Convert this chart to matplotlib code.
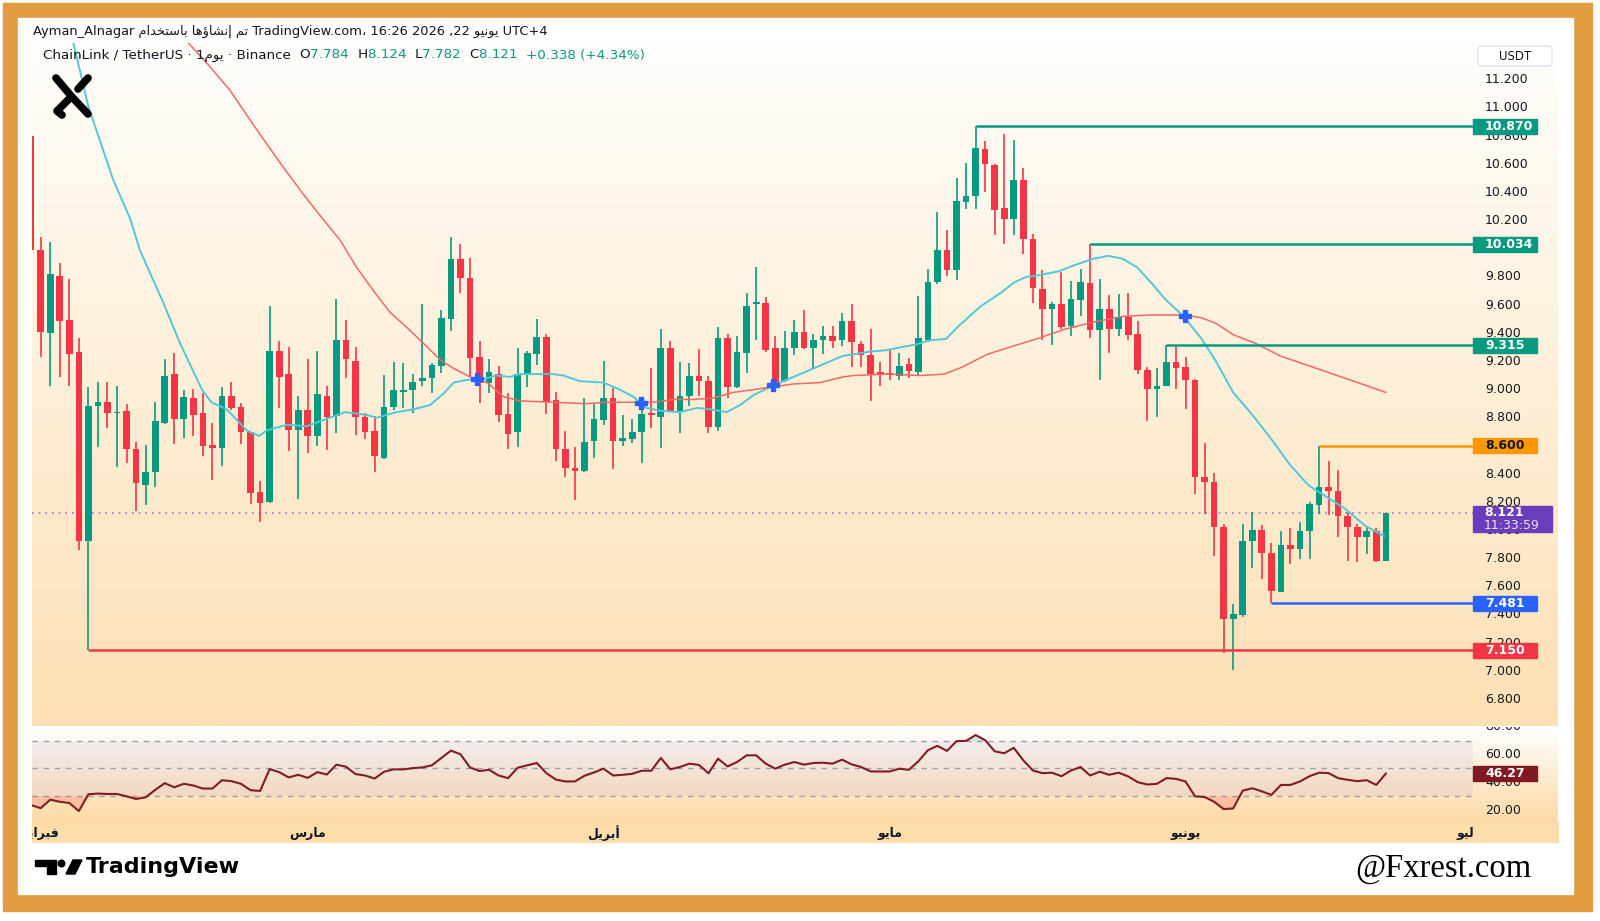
import numpy as np
import matplotlib.pyplot as plt
import matplotlib.colors as mcolors
from matplotlib.patches import Rectangle, FancyBboxPatch, Polygon, Circle

plt.rcParams['font.family'] = ['DejaVu Sans']

# ---------------- data ----------------
start_date = np.datetime64('2026-01-31')

opens = [10.80, 9.991, 9.404, 9.807, 9.494, 9.265, 7.927, 8.883, 8.914, 8.831,
         8.848, 8.578, 8.322, 8.412, 8.760, 9.108, 8.791, 8.938, 8.836, 8.607,
         8.588, 8.954, 8.879, 8.699, 8.275, 8.204, 9.274, 9.108, 8.713, 8.855,
         8.670, 8.957, 8.815, 9.352, 9.203, 8.808, 8.706, 8.512, 8.874, 8.985,
         8.997, 9.063, 9.080, 9.170, 9.501, 9.925, 9.790, 9.234, 9.049, 9.111,
         8.824, 8.696, 9.104, 9.253, 9.376, 8.926, 8.576, 8.441, 8.424, 8.635,
         8.784, 8.943, 8.635, 8.649, 8.701, 8.836, 8.803, 9.293, 8.850, 8.954,
         9.097, 9.063, 8.732, 9.369, 9.021, 9.262, 9.606, 9.613, 9.293, 9.061,
         9.293, 9.407, 9.293, 9.352, 9.383, 9.352, 9.487, 9.321, 9.246, 9.123,
         9.115, 9.099, 9.182, 9.127, 9.350, 9.761, 9.992, 9.849, 10.334, 10.377,
         10.712, 10.598, 10.293, 10.212, 10.486, 10.073, 9.712, 9.573, 9.611, 9.451,
         9.634, 9.756, 9.421, 9.573, 9.433, 9.515, 9.393, 9.142, 9.007, 9.028,
         9.198, 9.159, 9.066, 8.378, 8.343, 8.023, 7.371, 7.397, 7.924, 8.005,
         7.840, 7.562, 7.899, 7.871, 7.993, 8.183, 8.305, 8.279, 8.099, 8.023,
         7.955, 7.998, 7.784]
highs = [10.83, 10.081, 10.046, 9.901, 9.785, 9.364, 9.016, 9.052, 9.052, 9.025,
         8.895, 8.625, 8.607, 8.914, 9.215, 9.258, 8.997, 9.004, 8.973, 8.765,
         9.021, 9.052, 8.907, 8.701, 8.348, 9.594, 9.347, 9.305, 8.957, 9.215,
         9.274, 9.025, 9.641, 9.494, 9.305, 8.831, 8.812, 9.104, 9.198, 9.186,
         9.111, 9.606, 9.186, 9.565, 10.081, 10.034, 9.932, 9.347, 9.215, 9.170,
         8.973, 9.293, 9.274, 9.504, 9.395, 8.985, 8.706, 8.595, 8.938, 8.895,
         9.203, 9.014, 8.819, 8.789, 8.926, 9.156, 9.428, 9.347, 9.198, 9.186,
         9.288, 9.097, 9.442, 9.395, 9.381, 9.684, 9.873, 9.655, 9.383, 9.416,
         9.494, 9.565, 9.395, 9.454, 9.454, 9.546, 9.606, 9.347, 9.428, 9.198,
         9.286, 9.258, 9.227, 9.667, 9.857, 10.263, 10.136, 10.504, 10.610, 10.870,
         10.763, 10.605, 10.813, 10.775, 10.575, 10.106, 9.852, 9.624, 9.832, 9.768,
         9.857, 10.034, 9.789, 9.675, 9.680, 9.687, 9.484, 9.160, 9.155, 9.315,
         9.304, 9.228, 9.078, 8.622, 8.406, 8.048, 7.477, 8.043, 8.132, 8.038,
         7.909, 7.994, 8.019, 8.062, 8.201, 8.600, 8.492, 8.429, 8.132, 8.048,
         8.023, 8.018, 8.124]
lows = [9.95, 9.234, 9.028, 9.087, 9.028, 7.861, 7.150, 8.590, 8.730, 8.448,
        8.476, 8.140, 8.180, 8.311, 8.755, 8.614, 8.658, 8.670, 8.531, 8.358,
        8.460, 8.855, 8.611, 8.185, 8.062, 8.192, 8.872, 8.564, 8.221, 8.552,
        8.599, 8.571, 8.689, 9.080, 8.677, 8.647, 8.412, 8.507, 8.855, 8.867,
        8.836, 9.028, 8.973, 9.115, 9.418, 9.688, 9.092, 8.902, 8.973, 8.767,
        8.580, 8.590, 9.021, 9.175, 8.824, 8.493, 8.382, 8.216, 8.412, 8.512,
        8.749, 8.434, 8.599, 8.623, 8.481, 8.730, 8.583, 8.843, 8.689, 8.886,
        8.957, 8.689, 8.706, 8.943, 9.009, 9.115, 9.352, 9.265, 9.002, 9.056,
        9.246, 9.288, 9.151, 9.250, 9.293, 9.310, 9.163, 9.163, 8.919, 9.028,
        9.068, 9.068, 9.085, 9.096, 9.337, 9.750, 9.806, 9.776, 10.283, 10.283,
        10.402, 10.098, 10.035, 10.098, 9.966, 9.616, 9.350, 9.319, 9.433, 9.383,
        9.520, 9.370, 9.066, 9.261, 9.383, 9.350, 9.109, 8.774, 8.804, 9.028,
        9.002, 8.860, 8.259, 8.120, 7.815, 7.131, 7.009, 7.384, 7.731, 7.655,
        7.481, 7.560, 7.764, 7.795, 7.795, 8.120, 8.107, 7.955, 7.785, 7.777,
        7.835, 7.777, 7.782]
closes = [9.99, 9.411, 9.819, 9.490, 9.253, 7.927, 8.884, 8.914, 8.834, 8.838,
          8.576, 8.334, 8.415, 8.777, 9.097, 8.791, 8.945, 8.819, 8.602, 8.588,
          8.954, 8.872, 8.696, 8.263, 8.197, 9.274, 9.092, 8.713, 8.855, 8.670,
          8.969, 8.808, 9.352, 9.215, 8.803, 8.701, 8.528, 8.879, 8.997, 8.997,
          9.052, 9.080, 9.175, 9.506, 9.925, 9.790, 9.227, 9.045, 9.123, 8.819,
          8.685, 9.111, 9.258, 9.376, 8.909, 8.576, 8.441, 8.424, 8.625, 8.789,
          8.943, 8.635, 8.654, 8.696, 8.824, 8.819, 9.293, 8.850, 8.954, 9.097,
          9.061, 8.732, 9.369, 9.021, 9.265, 9.594, 9.624, 9.281, 9.033, 9.293,
          9.407, 9.293, 9.352, 9.383, 9.347, 9.487, 9.336, 9.246, 9.111, 9.111,
          9.108, 9.170, 9.134, 9.368, 9.761, 9.992, 9.849, 10.339, 10.372, 10.719,
          10.600, 10.276, 10.212, 10.486, 10.073, 9.725, 9.573, 9.608, 9.446, 9.641,
          9.761, 9.426, 9.573, 9.433, 9.515, 9.388, 9.139, 9.007, 9.028, 9.198,
          9.155, 9.066, 8.378, 8.343, 8.023, 7.371, 7.404, 7.924, 8.005, 7.840,
          7.567, 7.899, 7.871, 7.993, 8.188, 8.305, 8.277, 8.099, 8.023, 7.955,
          7.993, 7.784, 8.121]

# fast moving average (cyan), read at candle positions
cyan_idx = [3.0, 4.4, 6.0, 8.6, 10.4, 11.4, 13.9, 15.6, 17.9, 18.9, 20.5, 22.6, 23.9,
            24.7, 26.8, 28.9, 31.7, 32.9, 35.2, 36.2, 38.3, 40.1, 41.8, 43.2, 44.3, 45.7,
            47.1, 48.8, 50.2, 51.2, 53.0, 54.7, 55.8, 57.5, 60.0, 61.7, 63.1, 64.5, 65.9,
            68.0, 69.8, 71.2, 72.9, 74.3, 75.7, 77.8, 79.9, 82.0, 83.7, 85.1, 86.2, 87.9,
            89.7, 91.1, 92.7, 94.2, 95.9, 97.2, 99.5, 101.7, 103.0, 104.3, 105.4, 107.7,
            109.6, 111.4, 112.9, 114.4, 115.9, 117.4, 118.9, 120.8, 122.7, 124.2, 126.0,
            127.9, 130.2, 131.9, 133.9, 136.2, 137.6, 139.9, 141.8]
cyan_val = [11.85, 11.47, 11.01, 10.49, 10.21, 9.99, 9.61, 9.33, 9.00, 8.91, 8.86, 8.71, 8.67,
            8.71, 8.75, 8.74, 8.81, 8.84, 8.82, 8.80, 8.84, 8.86, 8.89, 8.97, 9.05, 9.07,
            9.07, 9.10, 9.09, 9.11, 9.11, 9.11, 9.10, 9.06, 9.05, 9.00, 8.95, 8.87, 8.85,
            8.84, 8.87, 8.86, 8.84, 8.89, 8.96, 9.03, 9.09, 9.15, 9.20, 9.24, 9.25, 9.27,
            9.28, 9.30, 9.32, 9.35, 9.36, 9.45, 9.59, 9.69, 9.76, 9.80, 9.81, 9.84,
            9.89, 9.93, 9.95, 9.93, 9.87, 9.76, 9.64, 9.52, 9.36, 9.20, 8.98,
            8.83, 8.63, 8.47, 8.32, 8.22, 8.16, 8.03, 7.96]

# slow moving average (red)
red_idx = [15.0, 16.5, 18.4, 20.8, 23.3, 26.1, 28.5, 30.6, 32.4, 34.1, 35.9, 37.6, 39.4,
           41.1, 42.9, 44.3, 46.0, 47.8, 49.5, 51.2, 54.7, 58.2, 60.3, 63.1, 65.2, 67.3,
           69.4, 71.5, 73.6, 75.7, 77.8, 79.9, 82.7, 85.1, 86.2, 89.7, 93.2, 95.7, 97.6,
           100.2, 102.5, 105.4, 108.4, 111.4, 114.4, 117.4, 120.8, 122.7, 124.2, 126.0,
           128.3, 130.9, 133.9, 136.9, 139.9, 142.0]
red_val = [11.58, 11.46, 11.32, 11.13, 10.88, 10.61, 10.39, 10.21, 10.06, 9.87, 9.70, 9.55, 9.44,
           9.33, 9.21, 9.15, 9.09, 9.05, 8.95, 8.92, 8.91, 8.90, 8.91, 8.91, 8.91, 8.93,
           8.93, 8.94, 8.98, 9.00, 9.02, 9.04, 9.05, 9.09, 9.10, 9.11, 9.10, 9.11, 9.16,
           9.25, 9.30, 9.36, 9.43, 9.48, 9.52, 9.53, 9.53, 9.51, 9.47, 9.39,
           9.33, 9.24, 9.17, 9.10, 9.03, 8.98]

cross_idx = [46.7, 63.9, 77.8, 120.9]
cross_val = [9.075, 8.907, 9.033, 9.523]

rsi = [23.6, 21.4, 27.5, 26.0, 25.1, 19.3, 31.4, 31.9, 31.6, 31.6,
       29.9, 28.0, 29.2, 34.5, 39.4, 36.4, 38.9, 37.7, 35.5, 35.5,
       41.5, 40.8, 38.9, 34.3, 33.8, 49.5, 47.3, 43.5, 45.4, 43.2,
       47.3, 45.6, 52.7, 51.2, 45.9, 44.9, 42.7, 47.6, 49.3, 49.3,
       50.2, 50.7, 52.2, 57.5, 62.8, 60.2, 50.7, 48.1, 49.0, 44.9,
       43.0, 50.5, 52.2, 53.9, 46.6, 42.0, 40.6, 40.6, 44.7, 47.1,
       49.8, 44.9, 45.4, 46.1, 48.3, 48.3, 57.5, 49.3, 51.0, 53.4,
       52.5, 46.5, 57.0, 51.4, 54.6, 59.4, 59.4, 53.4, 49.8, 52.7,
       54.6, 52.7, 53.9, 54.1, 53.4, 56.3, 52.9, 51.0, 47.8, 47.8,
       47.8, 49.8, 49.0, 55.1, 63.1, 66.2, 62.6, 69.6, 69.8, 74.0,
       70.3, 62.3, 60.9, 64.8, 55.8, 48.5, 46.6, 46.9, 44.4, 48.5,
       51.0, 44.9, 47.6, 45.4, 46.9, 44.2, 40.1, 38.4, 38.9, 43.0,
       42.5, 40.6, 29.9, 29.4, 26.0, 20.7, 21.2, 34.0, 35.7, 33.5,
       30.9, 38.1, 38.1, 40.6, 44.4, 46.9, 46.6, 43.0, 41.8, 40.8,
       41.5, 38.1, 46.27]

level_vals = [10.870, 10.034, 9.315, 8.600, 7.481, 7.150]
level_start = [99, 111, 119, 135, 130, 6]
level_colors = ['#089981', '#089981', '#089981', '#FF9800', '#2962FF', '#F23645']
level_text = ['white', 'white', 'white', '#131722', 'white', 'white']

price_ticks = [6.8, 7.0, 7.2, 7.4, 7.6, 7.8, 8.0, 8.2, 8.4, 8.6, 8.8, 9.0, 9.2, 9.4,
               9.6, 9.8, 10.0, 10.2, 10.4, 10.6, 10.8, 11.0, 11.2]
rsi_ticks = [20, 40, 60, 80]
month_names = ['فبراير', 'مارس', 'أبريل', 'مايو', 'يونيو', 'يوليو']
month_dates = ['2026-02-01', '2026-03-01', '2026-04-01', '2026-05-01', '2026-06-01', '2026-07-01']

GREEN, RED, DARK, TEAL = '#089981', '#F23645', '#131722', '#089981'

# ---------------- arabic shaping (visual order) ----------------
AR = {'ا': ('\uFE8D', '\uFE8E', None, None), 'أ': ('\uFE83', '\uFE84', None, None),
      'إ': ('\uFE87', '\uFE88', None, None), 'ب': ('\uFE8F', '\uFE90', '\uFE91', '\uFE92'),
      'ت': ('\uFE95', '\uFE96', '\uFE97', '\uFE98'), 'خ': ('\uFEA5', '\uFEA6', '\uFEA7', '\uFEA8'),
      'د': ('\uFEA9', '\uFEAA', None, None), 'ر': ('\uFEAD', '\uFEAE', None, None),
      'س': ('\uFEB1', '\uFEB2', '\uFEB3', '\uFEB4'), 'ش': ('\uFEB5', '\uFEB6', '\uFEB7', '\uFEB8'),
      'ف': ('\uFED1', '\uFED2', '\uFED3', '\uFED4'), 'ل': ('\uFEDD', '\uFEDE', '\uFEDF', '\uFEE0'),
      'م': ('\uFEE1', '\uFEE2', '\uFEE3', '\uFEE4'), 'ن': ('\uFEE5', '\uFEE6', '\uFEE7', '\uFEE8'),
      'ه': ('\uFEE9', '\uFEEA', '\uFEEB', '\uFEEC'), 'و': ('\uFEED', '\uFEEE', None, None),
      'ؤ': ('\uFE85', '\uFE86', None, None), 'ي': ('\uFEF1', '\uFEF2', '\uFEF3', '\uFEF4')}


def ar(word):
    out = []
    for i, ch in enumerate(word):
        f = AR[ch]
        jp = i > 0 and AR[word[i - 1]][2] is not None
        jn = f[2] is not None and i + 1 < len(word)
        out.append(f[3] if jp and jn else f[1] if jp else f[2] if jn else f[0])
    return ''.join(reversed(out))


# ---------------- figure / pixel calibration ----------------
W, H = 1600, 921
fig = plt.figure(figsize=(W / 100, H / 100), dpi=100)


def px_axes(x0, y0, x1, y1, **kw):
    return fig.add_axes([x0 / W, 1 - y1 / H, (x1 - x0) / W, (y1 - y0) / H], **kw)


def px2i(px):
    return (px - 31.16) / 9.54


def py2p(py):
    return 11 - (py - 108) / 140.8


def py2r(py):
    return 80 - (py - 726.7) / 1.39


def vgrad(ax, top, bottom, ext):
    t = np.array(mcolors.to_rgb(top))
    b = np.array(mcolors.to_rgb(bottom))
    s = np.linspace(0, 1, 256)[:, None]
    img = (t + (b - t) * s)[:, None, :]
    ax.imshow(img, extent=ext, aspect='auto', origin='upper', zorder=0)


bg = fig.add_axes([0, 0, 1, 1], zorder=-5)
bg.set_xlim(0, W); bg.set_ylim(H, 0); bg.set_axis_off()
bg.add_patch(Rectangle((3, 3), 1589, 908, color='#E29C40'))
bg.add_patch(Rectangle((18, 18), 1555, 876, color='white'))
bg.add_patch(Rectangle((32, 822), 1526, 20, color='#FDDEAB'))

XL, XR, XP = px2i(32), px2i(1558), px2i(1473)
xi = np.arange(len(opens))

# ---------------- price pane ----------------
ax = px_axes(32, 43, 1558, 725.7)
ylo, yhi = py2p(725.7), py2p(43)
vgrad(ax, '#FFFEFB', '#FDE0B5', (XL, XR, ylo, yhi))
ax.set_xlim(XL, XR); ax.set_ylim(ylo, yhi); ax.set_axis_off()

o, h, l, c = map(np.array, (opens, highs, lows, closes))
cols = np.where(c >= o, GREEN, RED)
ax.vlines(xi, l, h, colors=cols, lw=1.2, zorder=3)
ax.bar(xi, np.maximum(np.abs(c - o), 0.008), bottom=np.minimum(o, c), width=0.7,
       color=cols, lw=0, zorder=4)

ax.plot(cyan_idx, cyan_val, color='#52C7D8', lw=1.4, zorder=5)
ax.plot(red_idx, red_val, color='#F06868', lw=1.1, zorder=5)
ax.plot(cross_idx, cross_val, 'P', color='#2962FF', ms=9, zorder=6)
ax.hlines(closes[-1], XL, XP, colors='#8E7CC3', linestyles=(0, (1, 3)), lw=1.2, zorder=2)

for v in price_ticks:
    ax.text(px2i(1485), v, f'{v:.3f}', va='center', ha='left', fontsize=9, color=DARK, zorder=8)

bh = 15 / 140.8
for v, s, col, tc in zip(level_vals, level_start, level_colors, level_text):
    ax.hlines(v, s, XP, colors=col, lw=1.8, zorder=6)
    ax.add_patch(Rectangle((XP, v - bh / 2), px2i(1537) - XP, bh, color=col, zorder=9))
    ax.text(px2i(1485), v, f'{v:.3f}', va='center', ha='left', fontsize=9, color=tc,
            weight='bold', zorder=10)

ax.add_patch(Rectangle((XP, py2p(532)), px2i(1552) - XP, 26 / 140.8, color='#6A3DBA', zorder=9))
ax.text(px2i(1484), py2p(513), f'{closes[-1]:.3f}', va='center', ha='left', fontsize=9,
        color='white', weight='bold', zorder=10)
ax.text(px2i(1484), py2p(526), '11:33:59', va='center', ha='left', fontsize=9,
        color='#E8E0F5', zorder=10)

# ---------------- RSI pane ----------------
rx = px_axes(32, 727, 1558, 822)
rlo, rhi = py2r(822), py2r(727)
vgrad(rx, '#FFFFFF', '#FDDAA6', (XL, XR, rlo, rhi))
rx.set_xlim(XL, XR); rx.set_ylim(rlo, rhi); rx.set_axis_off()
rx.fill_between([XL, XP], 30, 70, color='#7E57C2', alpha=0.08, lw=0, zorder=1)
rx.hlines([70, 50, 30], XL, XP, colors='#9DA0A8', linestyles=(0, (4, 4)), lw=1, zorder=2)
rv = np.array(rsi)
rx.fill_between(xi, rv, 30, where=rv < 30, interpolate=True, color='#F23645', alpha=0.2, lw=0, zorder=2)
rx.fill_between(xi, rv, 70, where=rv > 70, interpolate=True, color='#089981', alpha=0.2, lw=0, zorder=2)
rx.plot(xi, rv, color='#7F1D24', lw=1.5, zorder=3)
for v in rsi_ticks:
    t = rx.text(px2i(1485), v, f'{v:.2f}', va='center', ha='left', fontsize=9, color=DARK,
                zorder=8, clip_on=True)
    t.set_clip_path(rx.patch)
rx.add_patch(Rectangle((XP, rsi[-1] - 7.5 / 1.39), px2i(1537) - XP, 15 / 1.39, color='#7F1A22', zorder=9))
rx.text(px2i(1485), rsi[-1], f'{rsi[-1]:.2f}', va='center', ha='left', fontsize=9,
        color='white', weight='bold', zorder=10)

# ---------------- time axis labels ----------------
tx = px_axes(32, 822, 1473, 842)
tx.set_xlim(XL, XP); tx.set_ylim(0, 1); tx.set_axis_off()
for name, d in zip(month_names, month_dates):
    pos = (np.datetime64(d) - start_date).astype(int)
    t = tx.text(pos, 0.45, ar(name), ha='center', va='center', fontsize=9, color=DARK,
                weight='bold', clip_on=True)
    t.set_clip_path(tx.patch)

# ---------------- overlay texts ----------------
ov = fig.add_axes([0, 0, 1, 1], zorder=10)
ov.set_xlim(0, W); ov.set_ylim(H, 0); ov.set_axis_off()

header = ('Ayman_Alnagar ' + ar('باستخدام') + ' ' + ar('إنشاؤها') + ' ' + ar('تم') +
          ' TradingView.com\u060c 16:26 2026 ,22 ' + ar('يونيو') + ' UTC+4')
ov.text(32.6, 31.7, header, fontsize=9.4, color=DARK, va='center', ha='left')

rend = fig.canvas.get_renderer()
parts = [('ChainLink / TetherUS · 1' + ar('يوم') + ' · Binance  ', DARK),
         ('O', DARK), ('7.784  ', TEAL), ('H', DARK), ('8.124  ', TEAL),
         ('L', DARK), ('7.782  ', TEAL), ('C', DARK), ('8.121  ', TEAL),
         ('+0.338 (+4.34%)', TEAL)]
x = 43
for s, col in parts:
    t = ov.text(x, 55, s, fontsize=9.7, color=col, va='center', ha='left')
    x += t.get_window_extent(rend).width

# X logo
ov.plot([56, 72, 88], [78, 97, 114], color='black', lw=5.5, solid_capstyle='round')
ov.plot([88, 78], [78, 89], color='black', lw=5.5, solid_capstyle='round')
ov.plot([70, 57, 62], [98, 111, 115], color='black', lw=5.5, solid_capstyle='round',
        solid_joinstyle='round')

ov.add_patch(FancyBboxPatch((1478, 46), 74, 20, boxstyle='round,pad=0,rounding_size=4',
                            fc='white', ec='#E0E3EB', lw=1))
ov.text(1515, 56, 'USDT', fontsize=8.5, color=DARK, ha='center', va='center')

# TradingView footer logo
ov.add_patch(Polygon([(35, 860), (56, 860), (56, 874), (47, 874), (47, 866), (35, 866)], color='black'))
ov.add_patch(Circle((61.5, 863.5), 3.3, color='black'))
ov.add_patch(Polygon([(66, 874), (73, 860), (82, 860), (75, 874)], color='black'))
ov.text(86, 867, 'TradingView', fontsize=16, weight='bold', color='black', ha='left', va='center')
ov.text(1355, 869, '@Fxrest.com', fontsize=23.5, color='black', ha='left', va='center',
        family=['Liberation Serif'])

fig.savefig('out.png', dpi=100)
